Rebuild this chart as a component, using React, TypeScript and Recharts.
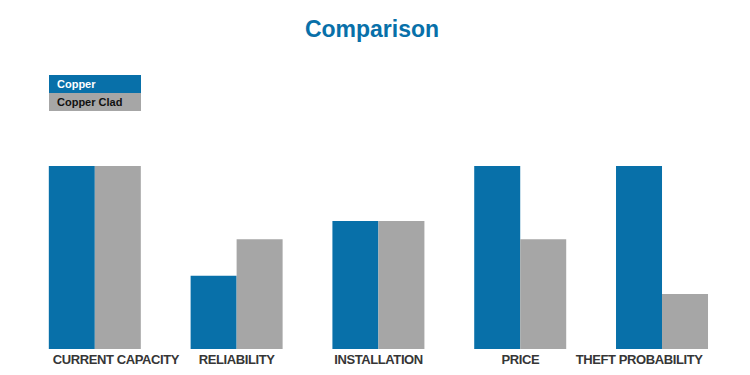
import { BarChart, Bar, XAxis, YAxis } from 'recharts'

const categories = ['CURRENT CAPACITY', 'RELIABILITY', 'INSTALLATION', 'PRICE', 'THEFT PROBABILITY']
const copper = [10, 4, 7, 10, 10]
const copperClad = [10, 6, 7, 6, 3]

const BLUE = '#0870a9'
const GRAY = '#a6a6a6'
const FONT = 'Arial, "Liberation Sans", sans-serif'

// label nudges so the long names sit like the original slide
const LABEL_SHIFT = [21, 0, 0, 0, -23]

const data = categories.map((name, i) => ({ name, copper: copper[i], clad: copperClad[i] }))

const legendRows = [
  { label: 'Copper', bg: BLUE, fg: '#ffffff' },
  { label: 'Copper Clad', bg: GRAY, fg: '#111111' },
]

function LegendBox() {
  return (
    <div style={{ position: 'absolute', left: 49, top: 75, width: 92 }}>
      {legendRows.map((r) => (
        <div
          key={r.label}
          style={{
            background: r.bg,
            color: r.fg,
            height: 18,
            lineHeight: '18px',
            paddingLeft: 8,
            fontFamily: FONT,
            fontWeight: 700,
            fontSize: 11,
          }}
        >
          {r.label}
        </div>
      ))}
    </div>
  )
}

function CategoryTick(props: any) {
  const { x, y, payload, index } = props
  return (
    <text
      x={x + (LABEL_SHIFT[index] || 0)}
      y={y}
      dy={7}
      textAnchor="middle"
      fill="#363636"
      fontSize={13}
      fontWeight={700}
      fontFamily={FONT}
      letterSpacing={-0.4}
    >
      {payload.value}
    </text>
  )
}

export default function App() {
  return (
    <div style={{ position: 'absolute', left: 0, top: 0, width: 750, height: 375, background: '#fff' }}>
      <div
        style={{
          position: 'absolute',
          top: 16,
          left: 0,
          width: 744,
          textAlign: 'center',
          color: BLUE,
          fontFamily: FONT,
          fontWeight: 700,
          fontSize: 23,
        }}
      >
        Comparison
      </div>
      <LegendBox />
      <BarChart
        width={750}
        height={375}
        data={data}
        margin={{ top: 166, right: 17, bottom: 0, left: 24 }}
        barCategoryGap="17.5%"
        barGap={0}
      >
        <XAxis
          dataKey="name"
          axisLine={false}
          tickLine={false}
          height={26}
          interval={0}
          tick={<CategoryTick />}
        />
        <YAxis hide domain={[0, 10]} />
        <Bar dataKey="copper" name="Copper" fill={BLUE} isAnimationActive={false} />
        <Bar dataKey="clad" name="Copper Clad" fill={GRAY} isAnimationActive={false} />
      </BarChart>
    </div>
  )
}
